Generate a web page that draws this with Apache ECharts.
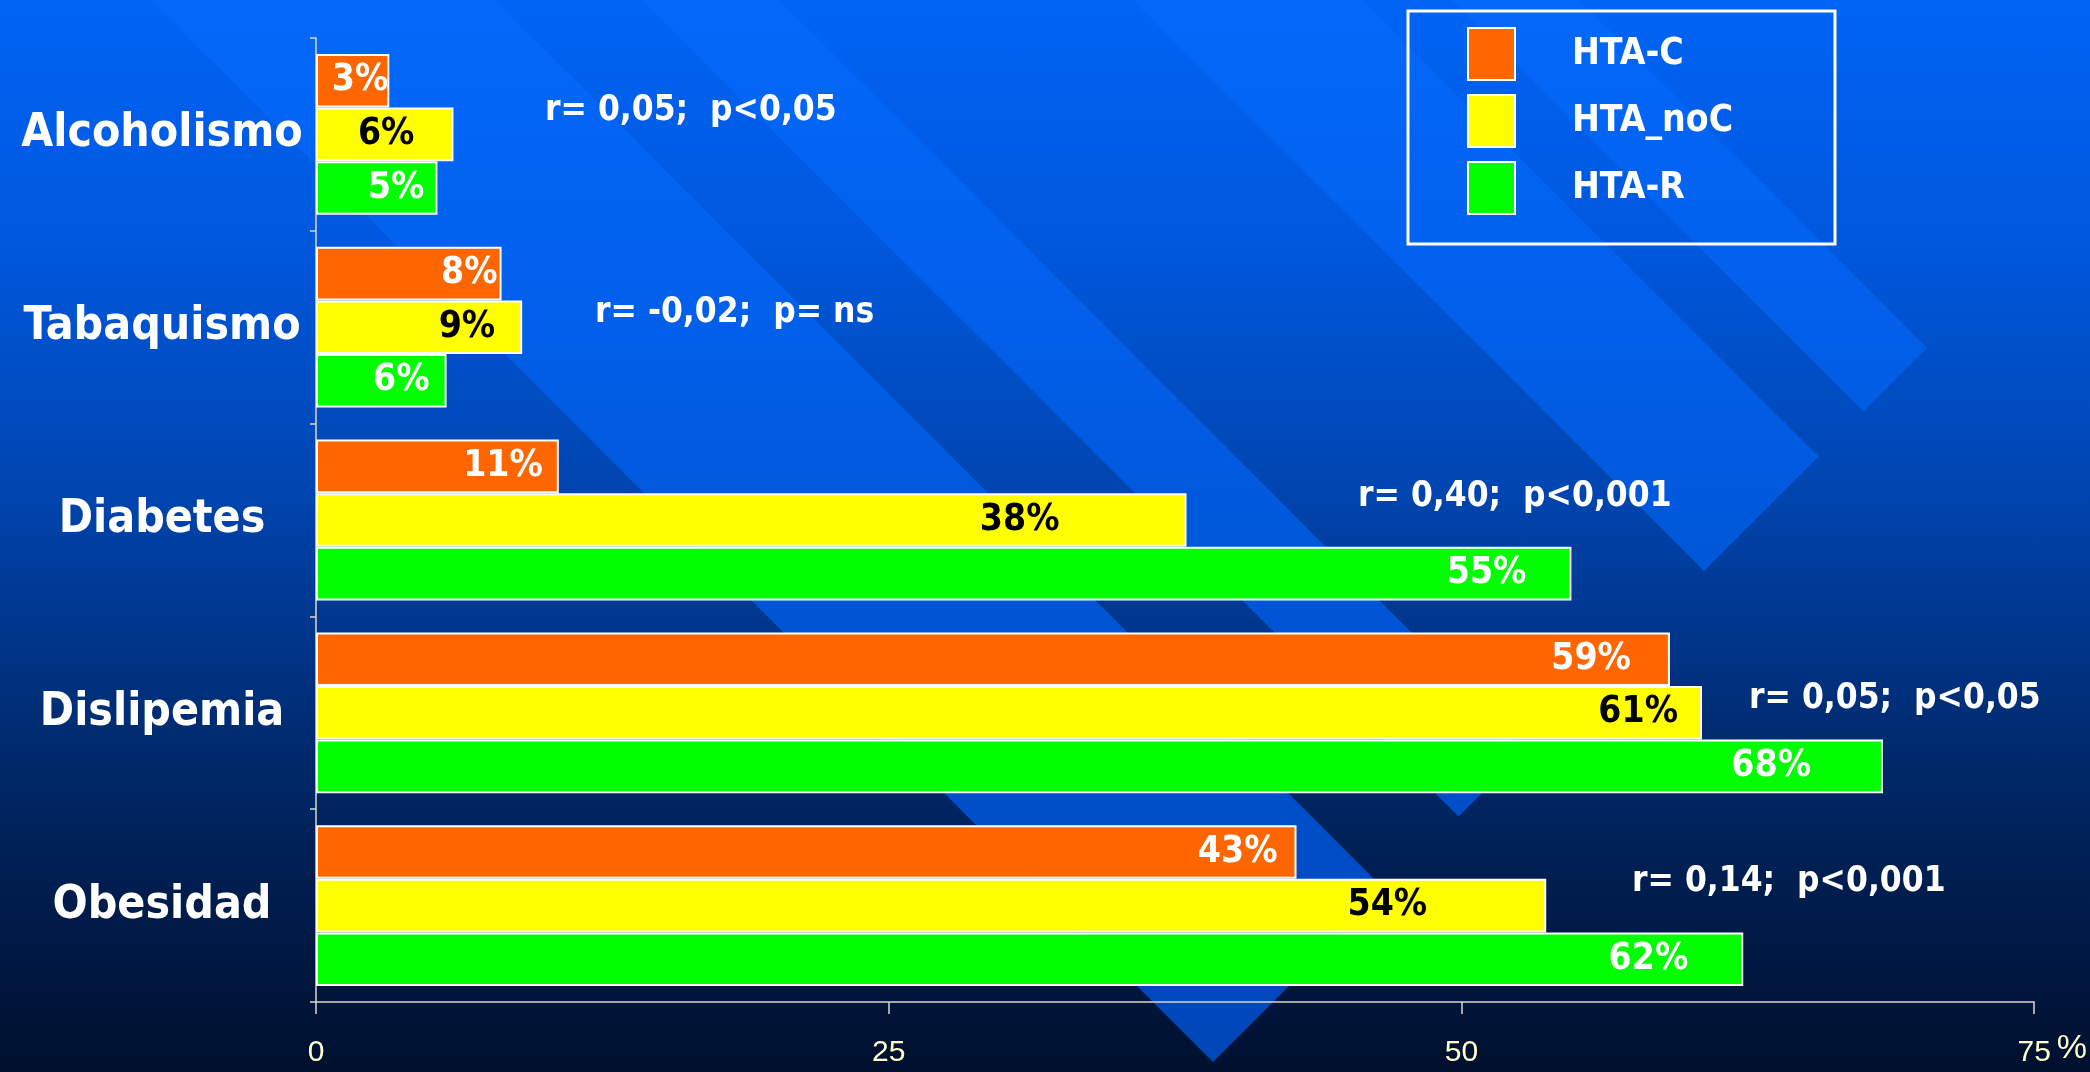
<!DOCTYPE html>
<html>
<head>
<meta charset="utf-8">
<script src="https://cdn.jsdelivr.net/npm/echarts@6/dist/echarts.min.js"></script>
<style>
html,body{margin:0;padding:0;width:2090px;height:1072px;overflow:hidden;}
#c{width:2090px;height:1072px;background:linear-gradient(to bottom,#0064F5 0%,#0058DE 22%,#0046B2 45%,#003A96 55%,#002C72 68%,#001E50 82%,#00102E 100%);}
</style>
</head>
<body>
<div id="c"></div>
<script>
// ---- data ----
const categories = ['Alcoholismo', 'Tabaquismo', 'Diabetes', 'Dislipemia', 'Obesidad'];
const seriesNames = ['HTA-C', 'HTA_noC', 'HTA-R'];
const htaC   = [3.2, 8.1, 10.6, 59.1, 42.8];
const htaNoC = [6.0, 9.0, 38.0, 60.5, 53.7];
const htaR   = [5.3, 5.7, 54.8, 68.4, 62.3];
const xTicks = [0, 25, 50, 75];
const annotations = [
  'r= 0,05;  p<0,05',
  'r= -0,02;  p= ns',
  'r= 0,40;  p<0,001',
  'r= 0,05;  p<0,05',
  'r= 0,14;  p<0,001'
];

// ---- styling / layout (kept separate from data) ----
const FONT = '"DejaVu Sans Condensed", "DejaVu Sans", sans-serif';
const NARROW = '"Liberation Sans Narrow", "Liberation Sans", sans-serif';
const colors = ['#FF6600', '#FFFF00', '#00FF00'];
const labelColors = ['#FFFFFF', '#000000', '#FFFFFF'];
const labelInsets = [
  [1, 4, 16, 39, 19],
  [39, 27, 127, 24, 119],
  [13, 17, 45, 72, 55]
];
const annotationPos = [[545, 111], [595, 313], [1358, 497], [1749, 699], [1632, 882]];
const stripeBounds = [[151, 495], [642, 779], [1133, 1362], [1452, 1579]];
const stripeEnd = 2275;

const chart = echarts.init(document.getElementById('c'), null, {renderer: 'canvas'});

const stripeFill = {
  type: 'linear', x: 0, y: 0, x2: 0, y2: 1072, global: true,
  colorStops: [
    {offset: 0, color: '#0468FA'},
    {offset: 0.25, color: '#0261EE'},
    {offset: 0.5, color: '#0058DA'},
    {offset: 1, color: '#0046B8'}
  ]
};

const graphics = [];
stripeBounds.forEach(([c1, c2]) => {
  graphics.push({
    type: 'polygon', z: -5, silent: true,
    shape: {points: [[c1, 0], [c2, 0], [(stripeEnd + c2) / 2, (stripeEnd - c2) / 2], [(stripeEnd + c1) / 2, (stripeEnd - c1) / 2]]},
    style: {fill: stripeFill}
  });
});
annotations.forEach((t, i) => {
  graphics.push({
    type: 'text', z: 10, x: annotationPos[i][0], y: annotationPos[i][1],
    style: {text: t, fill: '#FFFFFF', font: 'bold 35px ' + FONT, verticalAlign: 'middle', align: 'left'}
  });
});
// legend frame
graphics.push({
  type: 'rect', z: 10, silent: true,
  shape: {x: 1408, y: 11, width: 427, height: 233},
  style: {fill: 'none', stroke: '#FFFFFF', lineWidth: 3}
});

const seriesData = [htaC, htaNoC, htaR];
const series = seriesData.map((arr, s) => ({
  name: seriesNames[s],
  type: 'bar',
  barGap: '0%',
  barCategoryGap: '16.6%',
  itemStyle: {color: colors[s], borderColor: '#FFFFFF', borderWidth: 2},
  label: {
    show: true, position: 'insideRight',
    color: labelColors[s], fontSize: 37, fontWeight: 'bold', fontFamily: FONT,
    formatter: p => Math.round(p.value) + '%'
  },
  data: arr.map((v, i) => ({value: v, label: {distance: labelInsets[s][i]}}))
}));

chart.setOption({
  backgroundColor: 'transparent',
  animation: false,
  graphic: graphics,
  grid: {left: 316, right: 53, top: 38, bottom: 70, containLabel: false},
  legend: {
    data: seriesNames, orient: 'vertical', left: 1462, top: 22,
    itemWidth: 47, itemHeight: 52, itemGap: 13, icon: 'rect', selectedMode: false,
    textStyle: {color: '#FFFFFF', fontSize: 37, fontWeight: 'bold', fontFamily: FONT, padding: [0, 0, 0, 52]}
  },
  xAxis: {
    type: 'value', min: xTicks[0], max: xTicks[xTicks.length - 1], interval: 25,
    axisLine: {show: true, lineStyle: {color: '#D8D8D0', width: 1.5}},
    axisTick: {show: true, length: 12, lineStyle: {color: '#D8D8D0', width: 1.5}},
    splitLine: {show: false},
    axisLabel: {color: '#FFFFCC', fontSize: 30, fontFamily: NARROW, margin: 36},
    name: '%', nameLocation: 'end', nameGap: 0,
    nameTextStyle: {color: '#FFFFCC', fontSize: 34, fontFamily: NARROW, verticalAlign: 'top', padding: [30, 0, 0, 0]}
  },
  yAxis: {
    type: 'category', data: categories, inverse: true,
    axisLine: {show: true, lineStyle: {color: '#D8D8D0', width: 1.5}},
    axisTick: {show: true, length: 6, lineStyle: {color: '#D8D8D0', width: 1.5}},
    axisLabel: {color: '#FFFFFF', fontSize: 46, fontWeight: 'bold', fontFamily: FONT, align: 'center', margin: 154, padding: [0, 0, 12, 0]}
  },
  series: series
});
</script>
</body>
</html>
